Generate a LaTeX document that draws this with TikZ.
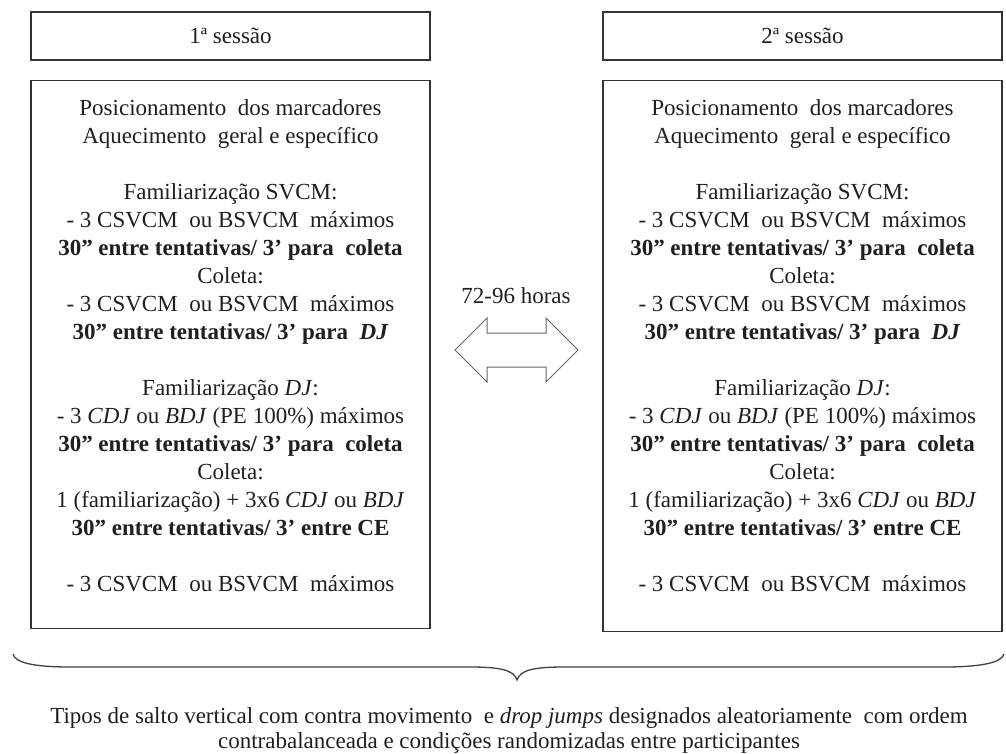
\documentclass[tikz,border=0pt]{standalone}
\usepackage{fontspec}
\setmainfont{Liberation Serif}
\newcommand{\sessionbody}{%
Posicionamento\ \ dos marcadores\\
Aquecimento\ \ geral e específico\\[28pt]
Familiarização SVCM:\\
- 3 CSVCM\ \ ou BSVCM\ \ máximos\\
\textbf{30” entre tentativas/ 3’ para\ \ coleta}\\
Coleta:\\
- 3 CSVCM\ \ ou BSVCM\ \ máximos\\
\textbf{30” entre tentativas/ 3’ para\ \ \textit{DJ}}\\[28pt]
Familiarização \textit{DJ}:\\
- 3 \textit{CDJ} ou \textit{BDJ} (PE 100\%) máximos\\
\textbf{30” entre tentativas/ 3’ para\ \ coleta}\\
Coleta:\\
1 (familiarização) + 3x6 \textit{CDJ} ou \textit{BDJ}\\
\textbf{30” entre tentativas/ 3’ entre CE}\\[28pt]
- 3 CSVCM\ \ ou BSVCM\ \ máximos}
\begin{document}
\begin{tikzpicture}[x=1pt,y=-1pt]
\tikzset{
  box/.style={draw=black!80, line width=1.3pt, inner sep=0pt},
  txt/.style={font=\fontsize{23}{28}\selectfont, text=black!88, inner sep=0pt, align=center},
  arrowshape/.style={draw=black!60, line width=1pt, fill=white, line join=miter},
  bracestyle/.style={draw=black!75, line width=1.3pt},
}
\useasboundingbox (0,0) rectangle (1006,754);
% headers
\node[box, txt, minimum width=399pt, minimum height=48pt] (h1) at (230.5,36) {1ª sessão};
\node[box, txt, minimum width=399pt, minimum height=48pt] (h2) at (802.5,36) {2ª sessão};
% main boxes
\node[box, minimum width=399pt, minimum height=548pt, anchor=north] (m1) at (230.5,80) {};
\node[box, minimum width=399pt, minimum height=551pt, anchor=north] (m2) at (802.5,80) {};
\node[txt, anchor=north] (t1) at (m1.north |- 0,99) {\sessionbody};
\node[txt, anchor=north] (t2) at (m2.north |- 0,99) {\sessionbody};
% interval label and arrow
\node[txt] (gap) at (516,296) {72-96 horas};
\draw[arrowshape] (455,350) -- (487,318) -- (487,333) -- (546,333) -- (546,318)
  -- (578,350) -- (546,382) -- (546,367) -- (487,367) -- (487,382) -- cycle;
% brace
\draw[bracestyle] (13,654) .. controls (15,663) and (35,667) .. (70,667) -- (470,667)
  .. controls (500,667) and (514,670) .. (517,680)
  .. controls (520,670) and (534,667) .. (564,667) -- (944,667)
  .. controls (979,667) and (1002,663) .. (1004,654);
% bottom text
\node[txt, anchor=base] (b1) at (509,723) {Tipos de salto vertical com contra movimento\ \ e \textit{drop jumps} designados aleatoriamente\ \ com ordem};
\node[txt, anchor=base] (b2) at (509,748) {contrabalanceada e condições randomizadas entre participantes};
\end{tikzpicture}
\end{document}
